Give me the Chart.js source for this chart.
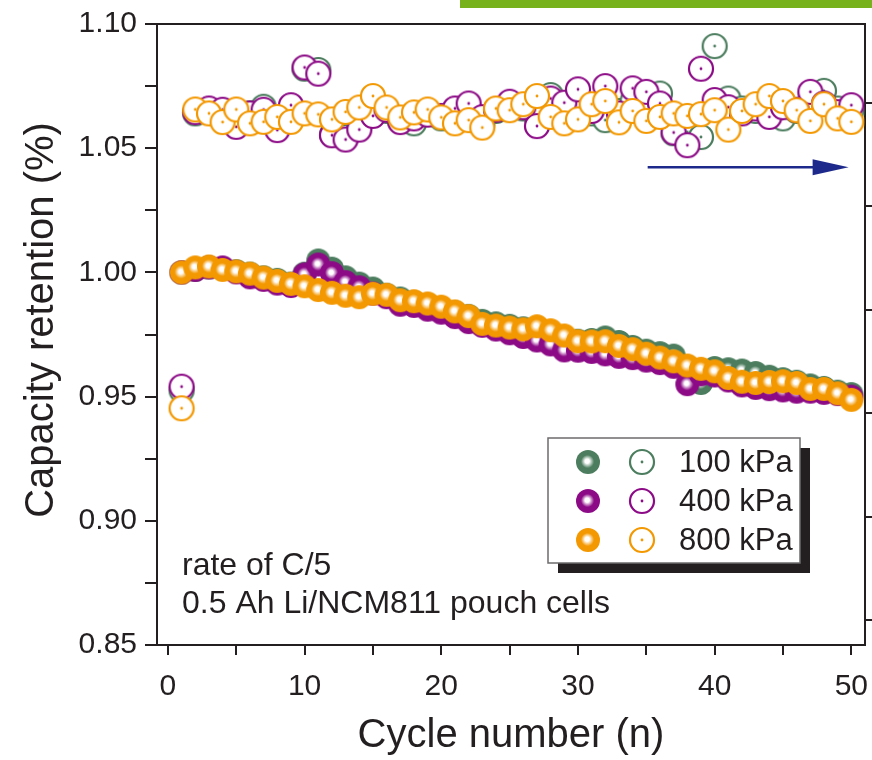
<!DOCTYPE html>
<html>
<head>
<meta charset="utf-8">
<script src="https://cdn.jsdelivr.net/npm/chart.js@4/dist/chart.umd.min.js"></script>
<style>
    html, body { margin: 0; padding: 0; background: #fff; }
    #wrap { position: relative; width: 872px; height: 760px; }
    #grafico { position: absolute; left: 0; top: 0; }
    #barra { position: absolute; left: 460px; top: 0; width: 412px; height: 8px; background: #77b21c; }
</style>
</head>
<body>
<div id="wrap">
    <canvas id="grafico" width="872" height="760"></canvas>
    <div id="barra"></div>
</div>
<script>
// ============================================================================
// DADOS
// ============================================================================
const ciclos = [1, 2, 3, 4, 5, 6, 7, 8, 9, 10, 11, 12, 13, 14, 15, 16, 17, 18, 19, 20,
    21, 22, 23, 24, 25, 26, 27, 28, 29, 30, 31, 32, 33, 34, 35, 36, 37, 38, 39, 40,
    41, 42, 43, 44, 45, 46, 47, 48, 49, 50];

// retencao (esferas cheias)
const ret100 = [1.0000, 1.0010, 1.0020, 1.0015, 1.0005, 0.9995, 0.9980, 0.9970, 0.9955, 0.9995,
    1.0048, 1.0015, 0.9980, 0.9955, 0.9935, 0.9910, 0.9895, 0.9880, 0.9870, 0.9855,
    0.9840, 0.9825, 0.9805, 0.9795, 0.9785, 0.9775, 0.9760, 0.9745, 0.9735, 0.9725,
    0.9728, 0.9738, 0.9720, 0.9700, 0.9685, 0.9675, 0.9665, 0.9620, 0.9555, 0.9615,
    0.9610, 0.9605, 0.9595, 0.9580, 0.9570, 0.9560, 0.9545, 0.9535, 0.9520, 0.9510];
const ret400 = [1.0000, 1.0010, 1.0020, 1.0020, 1.0000, 0.9980, 0.9970, 0.9955, 0.9945, 0.9992,
    1.0032, 0.9997, 0.9961, 0.9940, 0.9915, 0.9900, 0.9870, 0.9865, 0.9850, 0.9838,
    0.9820, 0.9800, 0.9785, 0.9770, 0.9755, 0.9740, 0.9726, 0.9710, 0.9686, 0.9685,
    0.9680, 0.9670, 0.9660, 0.9655, 0.9645, 0.9635, 0.9620, 0.9550, 0.9590, 0.9585,
    0.9565, 0.9545, 0.9535, 0.9530, 0.9525, 0.9520, 0.9520, 0.9515, 0.9510, 0.9500];
const ret800 = [1.0000, 1.0020, 1.0024, 1.0010, 1.0004, 0.9995, 0.9979, 0.9966, 0.9954, 0.9944,
    0.9929, 0.9918, 0.9906, 0.9900, 0.9914, 0.9910, 0.9888, 0.9884, 0.9875, 0.9862,
    0.9843, 0.9824, 0.9793, 0.9786, 0.9778, 0.9771, 0.9783, 0.9767, 0.9746, 0.9723,
    0.9722, 0.9723, 0.9704, 0.9691, 0.9673, 0.9657, 0.9642, 0.9625, 0.9612, 0.9602,
    0.9575, 0.9560, 0.9555, 0.9559, 0.9562, 0.9555, 0.9531, 0.9531, 0.9513, 0.9487];

// eficiencia (circulos abertos)
const efic100 = [0.9525, 1.0640, 1.0650, 1.0630, 1.0620, 1.0640, 1.0667, 1.0600, 1.0650, 1.0820,
    1.0815, 1.0555, 1.0545, 1.0590, 1.0635, 1.0650, 1.0610, 1.0600, 1.0640, 1.0620,
    1.0650, 1.0660, 1.0600, 1.0650, 1.0670, 1.0660, 1.0620, 1.0714, 1.0660, 1.0700,
    1.0640, 1.0613, 1.0650, 1.0690, 1.0700, 1.0720, 1.0560, 1.0565, 1.0545, 1.0911,
    1.0700, 1.0660, 1.0650, 1.0640, 1.0620, 1.0650, 1.0690, 1.0731, 1.0660, 1.0650];
const efic400 = [0.9540, 1.0645, 1.0660, 1.0655, 1.0586, 1.0640, 1.0655, 1.0573, 1.0673, 1.0825,
    1.0800, 1.0552, 1.0535, 1.0575, 1.0630, 1.0655, 1.0605, 1.0620, 1.0635, 1.0630,
    1.0660, 1.0680, 1.0625, 1.0655, 1.0687, 1.0665, 1.0589, 1.0700, 1.0683, 1.0737,
    1.0650, 1.0750, 1.0640, 1.0741, 1.0727, 1.0680, 1.0563, 1.0512, 1.0820, 1.0694,
    1.0665, 1.0640, 1.0660, 1.0626, 1.0665, 1.0655, 1.0727, 1.0680, 1.0645, 1.0673];
const efic800 = [0.9453, 1.0656, 1.0640, 1.0605, 1.0656, 1.0600, 1.0606, 1.0626, 1.0606, 1.0640,
    1.0636, 1.0616, 1.0646, 1.0664, 1.0710, 1.0664, 1.0624, 1.0644, 1.0656, 1.0624,
    1.0600, 1.0613, 1.0583, 1.0660, 1.0653, 1.0677, 1.0710, 1.0626, 1.0600, 1.0616,
    1.0677, 1.0690, 1.0604, 1.0650, 1.0610, 1.0626, 1.0640, 1.0630, 1.0637, 1.0653,
    1.0575, 1.0650, 1.0677, 1.0710, 1.0690, 1.0653, 1.0610, 1.0677, 1.0620, 1.0606];

const pressoes = ["100 kPa", "400 kPa", "800 kPa"];
const cores = ["#4b7d5e", "#8c0a86", "#f39800"];

const ticksX = [0, 5, 10, 15, 20, 25, 30, 35, 40, 45, 50];
const ticksY = [0.85, 0.875, 0.90, 0.925, 0.95, 0.975, 1.00, 1.025, 1.05, 1.075, 1.10];
const ticksY2 = [0, 1, 2, 3, 4, 5];

const textoNota = ["rate of C/5", "0.5 Ah Li/NCM811 pouch cells"];
const setaInicio = [35.1, 1.0423];
const setaFim = [49.8, 1.0423];

const FONTE = "'Liberation Sans', Arial, Helvetica, sans-serif";
const COR_TEXTO = "#231f20";


// ============================================================================
// MARCADORES (esfera e circulo aberto)
// ============================================================================
function criarEsfera(cor, r) {
    const c = document.createElement("canvas");
    c.width = c.height = 2 * r + 2;
    const g = c.getContext("2d");
    const m = r + 1;
    const grad = g.createRadialGradient(m - 1, m - 1, 0, m, m, r);
    grad.addColorStop(0, "#ffffff");
    grad.addColorStop(0.18, "#ffffff");
    grad.addColorStop(0.55, cor);
    grad.addColorStop(1, cor);
    g.fillStyle = grad;
    g.beginPath();
    g.arc(m, m, r, 0, Math.PI * 2);
    g.fill();
    return c;
}

function criarAnel(cor, r) {
    const c = document.createElement("canvas");
    c.width = c.height = 2 * r + 2;
    const g = c.getContext("2d");
    const m = r + 1;
    g.fillStyle = "#ffffff";
    g.beginPath();
    g.arc(m, m, r - 1, 0, Math.PI * 2);
    g.fill();
    g.strokeStyle = cor;
    g.lineWidth = 2.2;
    g.stroke();
    g.fillStyle = cor;
    g.beginPath();
    g.arc(m, m, 1.4, 0, Math.PI * 2);
    g.fill();
    return c;
}

const esferas = cores.map(c => criarEsfera(c, 12));
const aneis = cores.map(c => criarAnel(c, 13));

function pontos(valores) {
    return ciclos.map((n, i) => ({ x: n, y: valores[i] }));
}

function dataset(valores, marcador) {
    return {
        data: pontos(valores),
        pointStyle: marcador,
        pointRadius: 12,
        pointHoverRadius: 12,
        showLine: false
    };
}


// ============================================================================
// PLUGIN: titulo y, seta, notas, legenda
// ============================================================================
const decoracao = {
    id: "decoracao",
    afterDraw(chart) {
        const { ctx, scales: { x, y } } = chart;
        ctx.save();

        // titulo do eixo y
        ctx.fillStyle = COR_TEXTO;
        ctx.font = "40px " + FONTE;
        ctx.textAlign = "center";
        ctx.textBaseline = "middle";
        ctx.translate(42, 320);
        ctx.rotate(-Math.PI / 2);
        ctx.fillText("Capacity retention (%)", 0, 0);
        ctx.setTransform(1, 0, 0, 1, 0, 0);

        // seta azul
        const x0 = x.getPixelForValue(setaInicio[0]);
        const x1 = x.getPixelForValue(setaFim[0]);
        const ys = y.getPixelForValue(setaInicio[1]);
        ctx.strokeStyle = "#1d2a8c";
        ctx.fillStyle = "#1d2a8c";
        ctx.lineWidth = 2.5;
        ctx.beginPath();
        ctx.moveTo(x0, ys);
        ctx.lineTo(x1 - 30, ys);
        ctx.stroke();
        ctx.beginPath();
        ctx.moveTo(x1, ys);
        ctx.lineTo(x1 - 36, ys - 8);
        ctx.lineTo(x1 - 36, ys + 8);
        ctx.closePath();
        ctx.fill();

        // notas
        ctx.fillStyle = COR_TEXTO;
        ctx.font = "32px " + FONTE;
        ctx.textAlign = "left";
        ctx.textBaseline = "middle";
        ctx.fillText(textoNota[0], 182, 566);
        ctx.fillText(textoNota[1], 182, 604);

        // legenda
        const lx = 548, ly = 438, lw = 252, lh = 125;
        ctx.fillStyle = "#231f20";
        ctx.fillRect(lx + 10, ly + 10, lw, lh);
        ctx.fillStyle = "#ffffff";
        ctx.fillRect(lx, ly, lw, lh);
        ctx.strokeStyle = "#6d6b6b";
        ctx.lineWidth = 1.5;
        ctx.strokeRect(lx, ly, lw, lh);

        ctx.font = "31px " + FONTE;
        pressoes.forEach((p, i) => {
            const cy = 462 + 39 * i;
            const e = esferas[i], a = aneis[i];
            ctx.drawImage(e, 588 - e.width / 2, cy - e.height / 2);
            ctx.drawImage(a, 642 - a.width / 2, cy - a.height / 2);
            ctx.fillStyle = COR_TEXTO;
            ctx.fillText(p, 679, cy + 1);
        });

        ctx.restore();
    }
};


// ============================================================================
// GRAFICO
// ============================================================================
Chart.defaults.font.family = FONTE;
Chart.defaults.color = COR_TEXTO;

const semPadding = scale => {
    scale.paddingLeft = 0;
    scale.paddingRight = 0;
    scale.paddingTop = 0;
    scale.paddingBottom = 0;
};

new Chart(document.getElementById("grafico"), {
    type: "scatter",
    data: {
        datasets: [
            // ordem: o primeiro fica por cima
            dataset(ret800, esferas[2]),
            dataset(ret400, esferas[1]),
            dataset(ret100, esferas[0]),
            dataset(efic800, aneis[2]),
            dataset(efic400, aneis[1]),
            dataset(efic100, aneis[0])
        ]
    },
    options: {
        responsive: false,
        animation: false,
        layout: { padding: { top: 24, left: 0, right: 0, bottom: 0 }, autoPadding: false },
        plugins: {
            legend: { display: false },
            tooltip: { enabled: false }
        },
        scales: {
            x: {
                type: "linear",
                position: "bottom",
                min: -0.8,
                max: 51,
                afterBuildTicks: s => { s.ticks = ticksX.map(v => ({ value: v })); },
                afterFit: s => { s.height = 115; semPadding(s); },
                ticks: {
                    font: { size: 30 },
                    padding: 14,
                    maxRotation: 0,
                    autoSkip: false,
                    callback: v => (v % 10 === 0 ? String(v) : "")
                },
                grid: { drawOnChartArea: false, drawTicks: true, tickLength: 10, color: COR_TEXTO, lineWidth: 2 },
                border: { display: true, color: COR_TEXTO, width: 2 },
                title: {
                    display: true,
                    text: "Cycle number (n)",
                    font: { size: 40, lineHeight: 1 },
                    padding: { top: 0, bottom: 4 },
                    color: COR_TEXTO
                }
            },
            x2: {
                type: "linear",
                position: "top",
                min: 0,
                max: 1,
                afterFit: s => { s.height = 0; semPadding(s); },
                ticks: { display: false },
                grid: { display: false },
                border: { display: true, color: COR_TEXTO, width: 2 }
            },
            y: {
                type: "linear",
                position: "left",
                min: 0.85,
                max: 1.10,
                afterBuildTicks: s => { s.ticks = ticksY.map(v => ({ value: v })); },
                afterFit: s => { s.width = 157; semPadding(s); },
                ticks: {
                    font: { size: 30 },
                    padding: 8,
                    autoSkip: false,
                    callback: v => (Math.round(v * 1000) % 50 === 0 ? v.toFixed(2) : "")
                },
                grid: { drawOnChartArea: false, drawTicks: true, tickLength: 12, color: COR_TEXTO, lineWidth: 2 },
                border: { display: true, color: COR_TEXTO, width: 2 }
            },
            y2: {
                type: "linear",
                position: "right",
                min: -0.24,
                max: 5.76,
                afterBuildTicks: s => { s.ticks = ticksY2.map(v => ({ value: v })); },
                afterFit: s => { s.width = 7; semPadding(s); },
                ticks: { display: false },
                grid: { drawOnChartArea: false, drawTicks: true, tickLength: 7, color: COR_TEXTO, lineWidth: 2 },
                border: { display: true, color: COR_TEXTO, width: 2 }
            }
        }
    },
    plugins: [decoracao]
});
</script>
</body>
</html>
